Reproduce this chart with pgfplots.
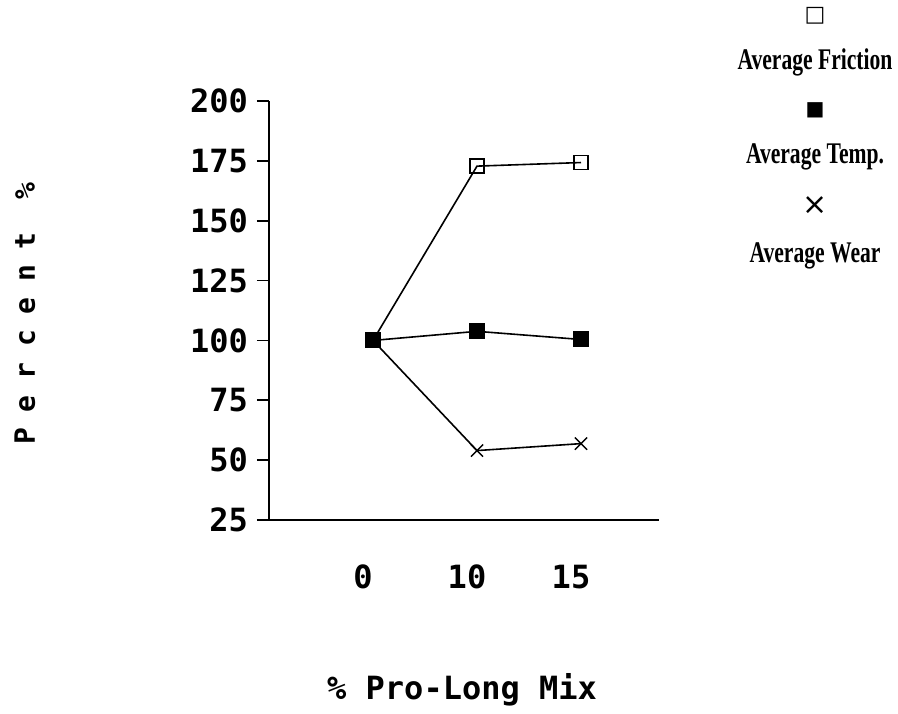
\documentclass[border=0pt]{standalone}
\usepackage{fontspec}
\usepackage{pgfplots}
\pgfplotsset{compat=1.18}
\setmainfont{DejaVu Sans Mono}
\newfontfamily\monofont{DejaVu Sans Mono}
\newfontfamily\ylabfont[LetterSpace=56]{DejaVu Sans Mono}
\newfontfamily\legfont[FakeStretch=0.72]{Liberation Serif}
\newfontfamily\symfont{DejaVu Sans}
\begin{document}
\begin{tikzpicture}
\begin{axis}[name=ax, scale only axis, width=195pt, height=209.5pt,
  xmin=0, xmax=3.75, ymin=25, ymax=200,
  axis lines=left, axis line style={-, line width=0.8pt},
  xtick={1,2,3}, xticklabels={0,10,15},
  major x tick style={draw=none},
  ytick={25,50,75,100,125,150,175,200},
  tick align=outside, major tick length=6pt,
  major y tick style={line width=0.8pt, black},
  /pgf/number format/assume math mode=true,
  ticklabel style={font=\monofont\bfseries\fontsize{16}{18}\selectfont},
  yticklabel style={xshift=-1pt},
  xticklabel style={yshift=-13pt, xshift=-5pt},
  xlabel={\% Pro-Long Mix},
  xlabel style={at={(axis description cs:0.495,-0.406)}, anchor=center,
    font=\monofont\bfseries\fontsize{16}{18}\selectfont},
  ylabel={Percent \%},
  ylabel style={at={(axis description cs:-0.626,0.492)}, anchor=center,
    font=\ylabfont\bfseries\fontsize{14}{16}\selectfont},
  clip=false,
  legend image code/.code={},
  legend style={draw=none, fill=none, at={(axis description cs:1.4,1.225)}, anchor=north,
    font=\legfont\bfseries\fontsize{15}{24}\selectfont,
    cells={anchor=center, align=center},
    row sep=15pt, inner sep=0pt, nodes={inner sep=0pt}},
]
\addplot[black, line width=0.8pt, mark=square, mark size=3.5pt, mark options={line width=0.8pt}]
  coordinates {(1,100) (2,172.8) (3,174.3)};
\addlegendentry{{\symfont\mdseries\fontsize{11}{24}\selectfont □}\\Average Friction}
\addplot[black, line width=0.8pt, mark=square*, mark size=3.6pt]
  coordinates {(1,100) (2,103.8) (3,100.4)};
\addlegendentry{{\symfont\mdseries\fontsize{10}{24}\selectfont ■}\\Average Temp.}
\addplot[black, line width=0.8pt, mark=x, mark size=4.3pt, mark options={line width=0.7pt}]
  coordinates {(1,100) (2,54.0) (3,56.9)};
\addlegendentry{{\symfont\mdseries\fontsize{15}{24}\selectfont ×}\\Average Wear}
\end{axis}
\pgfresetboundingbox
\path ([shift={(-134.5pt,-96.5pt)}]ax.south west) rectangle ([shift={(119.5pt,50.5pt)}]ax.north east);
\end{tikzpicture}
\end{document}
